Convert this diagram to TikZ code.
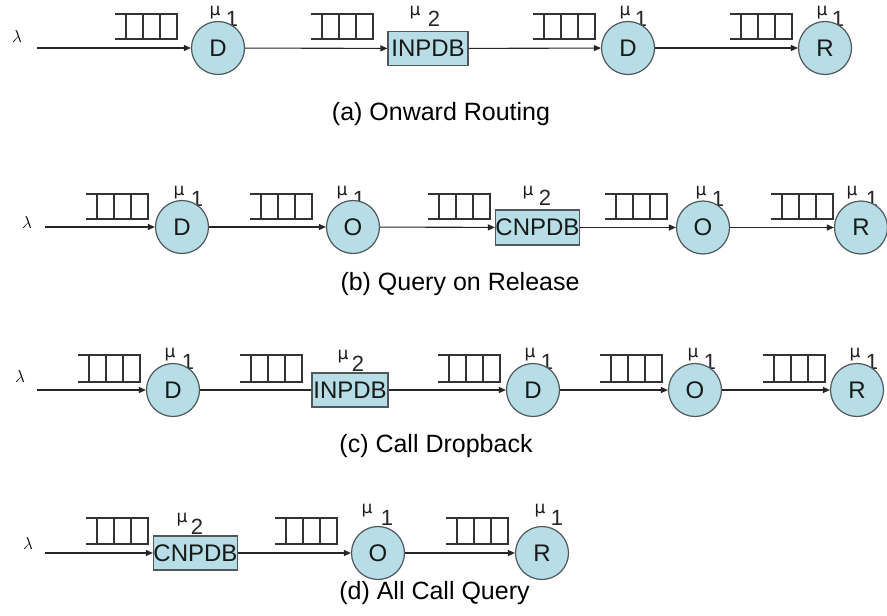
\documentclass[tikz,border=0pt]{standalone}
\usepackage{fontspec}
\setmainfont{Liberation Sans}
\newfontfamily\mufont{DejaVu Sans}
\usetikzlibrary{arrows.meta}
\definecolor{nodefill}{RGB}{183,221,230}
\definecolor{nodeedge}{RGB}{80,88,92}
\pgfdeclarelayer{bg}
\pgfsetlayers{bg,main}
\newcommand\queuebox[3]{%
  \draw[qline] (#1-62,#2) -- (#1,#2) -- (#1,#3) -- (#1-62,#3);
  \foreach \k in {17,34,51}{\draw[qline] (#1-\k,#2) -- (#1-\k,#3);}%
}
\tikzset{
  circ/.style={circle, minimum size=53pt, inner sep=0pt, fill=nodefill, draw=nodeedge, line width=1.2pt, font=\fontsize{24}{24}\selectfont, text=black!90},
  dbbox/.style={rectangle, minimum width=78pt, minimum height=34pt, inner sep=0pt, fill=nodefill, draw=nodeedge, line width=1.2pt, font=\fontsize{24}{24}\selectfont, text=black!90},
  conn/.style={line width=1.1pt, draw=black!85},
  arr/.style={conn, -{Triangle[length=7pt,width=6pt]}},
  qline/.style={line width=1.2pt, draw=black!80},
  mu/.style={font=\mufont\fontsize{17}{17}\selectfont, inner sep=0pt, text=black!90},
  subs/.style={font=\fontsize{22}{22}\selectfont, inner sep=0pt, text=black!85},
  captext/.style={font=\fontsize{25}{30}\selectfont, inner sep=0pt},
  lam/.style={font=\fontsize{18}{18}\selectfont, inner sep=0pt}
}
\begin{document}
\begin{tikzpicture}[x=1pt,y=-1pt]
\useasboundingbox (0,0) rectangle (887,616);

% ---------- background and labels behind nodes ----------
\begin{pgfonlayer}{bg}
\fill[white] (0,0) rectangle (887,616);
% row a
\node[mu] (amu1) at (215,13) {μ};  \node[subs] (as1) at (232,19) {1};
\node[mu] (amu2) at (415,13) {μ};  \node[subs] (as2) at (434,19) {2};
\node[mu] (amu3) at (625,13) {μ};  \node[subs] (as3) at (641,19) {1};
\node[mu] (amu4) at (822,13) {μ};  \node[subs] (as4) at (838,19) {1};
% row b
\node[mu] (bmu1) at (179,193) {μ}; \node[subs] (bs1) at (197,199) {1};
\node[mu] (bmu2) at (342,193) {μ}; \node[subs] (bs2) at (359,199) {1};
\node[mu] (bmu3) at (528,193) {μ}; \node[subs] (bs3) at (545,198) {2};
\node[mu] (bmu4) at (701,193) {μ}; \node[subs] (bs4) at (718,199) {1};
\node[mu] (bmu5) at (852,193) {μ}; \node[subs] (bs5) at (872,199) {1};
% row c
\node[mu] (cmu1) at (170,355) {μ}; \node[subs] (cs1) at (188,362) {1};
\node[mu] (cmu2) at (343,357) {μ}; \node[subs] (cs2) at (358,364) {2};
\node[mu] (cmu3) at (530,355) {μ}; \node[subs] (cs3) at (547,362) {1};
\node[mu] (cmu4) at (693,355) {μ}; \node[subs] (cs4) at (710,362) {1};
\node[mu] (cmu5) at (855,355) {μ}; \node[subs] (cs5) at (872,362) {1};
% row d
\node[mu] (dmu1) at (182,520) {μ}; \node[subs] (ds1) at (197,527) {2};
\node[mu] (dmu2) at (367,511) {μ}; \node[subs] (ds2) at (387,518) {1};
\node[mu] (dmu3) at (540,511) {μ}; \node[subs] (ds3) at (557,518) {1};
\end{pgfonlayer}

% ---------- row (a) ----------
\node[lam] (alam) at (17,36) {$\lambda$};
\coordinate (astart) at (37,48);
\node[circ] (aD1) at (218,48) {D};
\node[dbbox, minimum width=80pt] (aDB) at (428,48.5) {INPDB};
\node[circ] (aD2) at (628,48) {D};
\node[circ] (aR) at (825,48) {R};
\queuebox{177}{14}{39}
\queuebox{373}{14}{39}
\queuebox{595}{14}{39}
\queuebox{792}{14}{39}
\draw[arr] (astart) -- (aD1);
\draw[arr] (aD1) -- (aDB);
\draw[arr] (aDB) -- (aD2);
\draw[arr] (aD2) -- (aR);
\node[captext] (acap) at (441,114) {(a) Onward Routing};

% ---------- row (b) ----------
\node[lam] (blam) at (27,222) {$\lambda$};
\coordinate (bstart) at (45,227);
\node[circ] (bD) at (182,227) {D};
\node[circ] (bO1) at (353,227) {O};
\node[dbbox, minimum width=79pt, minimum height=35pt] (bDB) at (537.5,227.5) {CNPDB};
\node[circ] (bO2) at (703,227.5) {O};
\node[circ] (bR) at (861,227.5) {R};
\queuebox{148}{194}{219}
\queuebox{312}{194}{219}
\queuebox{490}{194}{219}
\queuebox{667}{194}{219}
\queuebox{833}{194}{219}
\draw[arr] (bstart) -- (bD);
\draw[arr] (bD) -- (bO1);
\draw[arr] (bO1) -- (bDB);
\draw[arr] (bDB) -- (bO2);
\draw[arr] (bO2) -- (bR);
\node[captext] (bcap) at (460,284) {(b) Query on Release};

% ---------- row (c) ----------
\node[lam] (clam) at (20,376) {$\lambda$};
\coordinate (cstart) at (37,390);
\node[circ] (cD1) at (173,390) {D};
\node[dbbox, minimum width=76pt] (cDB) at (350,390) {INPDB};
\node[circ] (cD2) at (533,390) {D};
\node[circ] (cO) at (695,390) {O};
\node[circ] (cR) at (857,390) {R};
\queuebox{140}{355}{382}
\queuebox{302}{355}{382}
\queuebox{500}{355}{382}
\queuebox{662}{355}{382}
\queuebox{825}{355}{382}
\draw[arr] (cstart) -- (cD1);
\draw[conn] (cD1) -- (cDB);
\draw[arr] (cDB) -- (cD2);
\draw[arr] (cD2) -- (cO);
\draw[arr] (cO) -- (cR);
\node[captext] (ccap) at (436,446) {(c) Call Dropback};

% ---------- row (d) ----------
\node[lam] (dlam) at (28,543) {$\lambda$};
\coordinate (dstart) at (45,553);
\node[dbbox, minimum width=77pt] (dDB) at (195.5,553) {CNPDB};
\node[circ] (dO) at (378,553) {O};
\node[circ] (dR) at (542,553) {R};
\queuebox{148}{518}{544}
\queuebox{337}{518}{544}
\queuebox{508}{518}{544}
\draw[arr] (dstart) -- (dDB);
\draw[arr] (dDB) -- (dO);
\draw[arr] (dO) -- (dR);
\node[captext] (dcap) at (434.5,593) {(d) All Call Query};
\end{tikzpicture}
\end{document}
